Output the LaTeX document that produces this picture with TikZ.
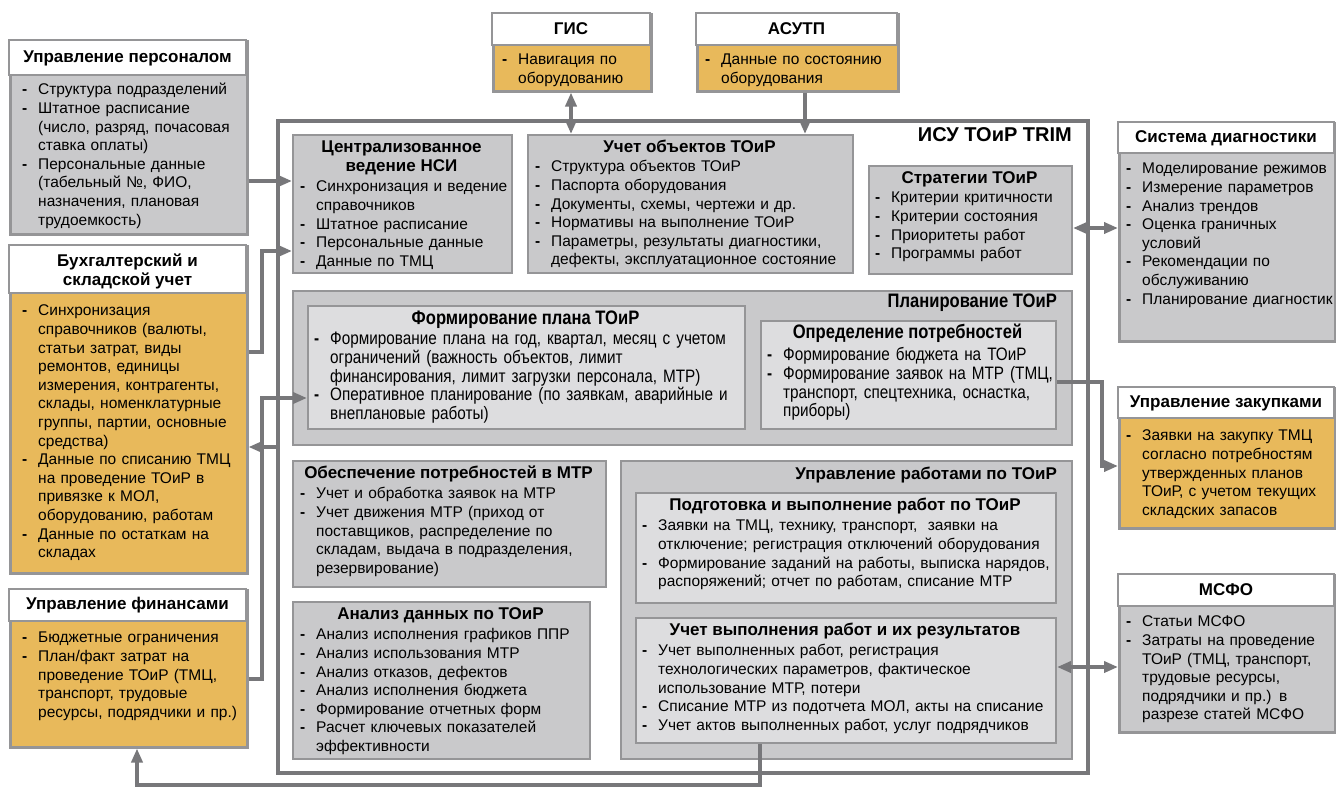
\documentclass[tikz,border=0pt]{standalone}
\usepackage{fontspec}
\setmainfont{Liberation Sans}
\newfontfamily\narrowfont[FakeStretch=0.85]{Liberation Sans}
\usetikzlibrary{arrows.meta}
\definecolor{gfill}{HTML}{C9C9CB}
\definecolor{lfill}{HTML}{DDDDDF}
\definecolor{ofill}{HTML}{E8B95B}
\definecolor{bord}{HTML}{959597}
\definecolor{conncol}{HTML}{77777A}
\newlength\dashw
\setlength\dashw{16pt}
\newcommand\mystrut{\rule{0pt}{12pt}}
\newcommand\itm[1]{\par\hangindent=\dashw\hangafter=1\noindent\hbox to\dashw{\mystrut\textbf{-}\hss}#1\par}
\newcommand\bodyfont{\fontsize{15.5}{18.6}\selectfont}
\newcommand\hdfont{\bfseries\fontsize{17}{19}\selectfont}
\newcommand\nbodyfont{\narrowfont\fontsize{18}{18.6}\selectfont}
\newcommand\nhdfont{\narrowfont\bfseries\fontsize{19.5}{20}\selectfont}
\newcommand\bx[6]{\node[#6, anchor=north west, minimum width=#4pt-#2pt, minimum height=#5pt-#3pt] (#1) at (#2,#3) {};}
\tikzset{
  gbox/.style={rectangle, draw=bord, line width=2pt, fill=gfill, inner sep=0pt},
  obox/.style={gbox, fill=ofill},
  lbox/.style={gbox, fill=lfill},
  ebox/.style={gbox, line width=2.5pt},
  eobox/.style={obox, line width=2.5pt},
  isubox/.style={rectangle, draw=conncol, line width=4pt, fill=white, inner sep=0pt},
  hdr/.style={draw=bord, line width=2.5pt, fill=white},
  body/.style={anchor=north west, inner sep=0pt, align=left, font=\bodyfont},
  nbody/.style={anchor=north west, inner sep=0pt, align=left, font=\nbodyfont},
  head/.style={inner sep=0pt, align=center, font=\hdfont, text height=12pt, text depth=4pt},
  mhead/.style={inner sep=0pt, align=center, font=\hdfont},
  conn/.style={draw=conncol, line width=3.5pt, -{Triangle[length=14pt,width=11pt]}},
  conn2/.style={conn, {Triangle[length=14pt,width=11pt]}-{Triangle[length=14pt,width=11pt]}}
}
\begin{document}
\begin{tikzpicture}[x=1pt,y=-1pt]
\useasboundingbox (0,0) rectangle (1336,788);
\fill[white] (0,0) rectangle (1336,788);

% ---------- container
\bx{isu}{276}{118.5}{1086}{771}{isubox}
\node[anchor=east, inner sep=0pt, font=\bfseries\fontsize{20}{22}\selectfont, text height=13pt, text depth=4pt] (isut) at (1072,137) {ИСУ ТОиР TRIM};

% ---------- external boxes
\bx{hr}{9}{40}{246}{233}{ebox}
\draw[hdr] (9,40) rectangle (246,75);
\node[head] (hrh) at (127.5,58) {Управление персоналом};
\node[body, text width=225pt] (hrb) at (22,76) {%
\itm{Структура подразделений}
\itm{Штатное расписание\newline (число, разряд, почасовая\newline ставка оплаты)}
\itm{Персональные данные\newline (табельный №, ФИО,\newline назначения, плановая\newline трудоемкость)}};

\bx{acc}{9}{245}{246}{572}{eobox}
\draw[hdr] (9,245) rectangle (246,293);
\node[mhead] (acch) at (127.5,271) {Бухгалтерский и\\складской учет};
\node[body, text width=225pt] (accb) at (22,297) {%
\itm{Синхронизация\newline справочников (валюты,\newline статьи затрат, виды\newline ремонтов, единицы\newline измерения, контрагенты,\newline склады, номенклатурные\newline группы, партии, основные\newline средства)}
\itm{Данные по списанию ТМЦ\newline на проведение ТОиР в\newline привязке к МОЛ,\newline оборудованию, работам}
\itm{Данные по остаткам на\newline складах}};

\bx{fin}{9}{589}{246}{746}{eobox}
\draw[hdr] (9,589) rectangle (246,621);
\node[head] (finh) at (127.5,605) {Управление финансами};
\node[body, text width=225pt] (finb) at (22,624) {%
\itm{Бюджетные ограничения}
\itm{План/факт затрат на\newline проведение ТОиР (ТМЦ,\newline транспорт, трудовые\newline ресурсы, подрядчики и пр.)}};

\bx{gis}{492}{13}{650}{90}{eobox}
\draw[hdr] (492,13) rectangle (650,45);
\node[head] (gish) at (571,30) {ГИС};
\node[body, text width=150pt] (gisb) at (502,46) {%
\itm{Навигация по\newline оборудованию}};

\bx{asu}{696}{13}{897}{90}{eobox}
\draw[hdr] (696,13) rectangle (897,45);
\node[head] (asuh) at (796.5,30) {АСУТП};
\node[body, text width=190pt] (asub) at (705,46) {%
\itm{Данные по состоянию\newline оборудования}};

\bx{diag}{1118}{122}{1334}{340}{ebox}
\draw[hdr] (1118,122) rectangle (1334,153);
\node[head] (diagh) at (1226,138) {Система диагностики};
\node[body, text width=215pt] (diagb) at (1126,155) {%
\itm{Моделирование режимов}
\itm{Измерение параметров}
\itm{Анализ трендов}
\itm{Оценка граничных\newline условий}
\itm{Рекомендации по\newline обслуживанию}
\itm{Планирование диагностик}};

\bx{buy}{1118}{387}{1334}{527}{eobox}
\draw[hdr] (1118,387) rectangle (1334,418);
\node[head] (buyh) at (1226,403) {Управление закупками};
\node[body, text width=215pt] (buyb) at (1126,422) {%
\itm{Заявки на закупку ТМЦ\newline согласно потребностям\newline утвержденных планов\newline ТОиР, с учетом текущих\newline складских запасов}};

\bx{msfo}{1118}{574}{1334}{731}{ebox}
\draw[hdr] (1118,574) rectangle (1334,606);
\node[head] (msfoh) at (1226,591) {МСФО};
\node[body, text width=215pt] (msfob) at (1126,608) {%
\itm{Статьи МСФО}
\itm{Затраты на проведение\newline ТОиР (ТМЦ, транспорт,\newline трудовые ресурсы,\newline подрядчики и пр.) в\newline разрезе статей МСФО}};

% ---------- inner boxes
\bx{nsi}{292}{134}{511}{272}{gbox}
\node[mhead] (nsih) at (401.5,158) {Централизованное\\ведение НСИ};
\node[body, text width=230pt] (nsib) at (300,173) {%
\itm{Синхронизация и ведение\newline справочников}
\itm{Штатное расписание}
\itm{Персональные данные}
\itm{Данные по ТМЦ}};

\bx{obj}{527}{134}{852}{272}{gbox}
\node[head] (objh) at (689.5,148) {Учет объектов ТОиР};
\node[body, text width=330pt] (objb) at (535,153) {%
\itm{Структура объектов ТОиР}
\itm{Паспорта оборудования}
\itm{Документы, схемы, чертежи и др.}
\itm{Нормативы на выполнение ТОиР}
\itm{Параметры, результаты диагностики,\newline дефекты, эксплуатационное состояние}};

\bx{strat}{868}{165}{1071}{273}{gbox}
\node[head] (strath) at (969.5,179) {Стратегии ТОиР};
\node[body, text width=200pt] (stratb) at (875,184) {%
\itm{Критерии критичности}
\itm{Критерии состояния}
\itm{Приоритеты работ}
\itm{Программы работ}};

\bx{plan}{292}{290}{1071}{444}{gbox}
\node[anchor=east, inner sep=0pt, font=\nhdfont, text height=13pt, text depth=4pt] (plant) at (1057,303) {Планирование ТОиР};

\bx{fplan}{307}{305}{744}{428}{lbox}
\node[inner sep=0pt, font=\nhdfont, text height=13pt, text depth=4pt] (fplanh) at (525.5,320) {Формирование плана ТОиР};
\node[nbody, text width=440pt] (fplanb) at (314,326) {%
\itm{Формирование плана на год, квартал, месяц с учетом\newline ограничений (важность объектов, лимит\newline финансирования, лимит загрузки персонала, МТР)}
\itm{Оперативное планирование (по заявкам, аварийные и\newline внеплановые работы)}};

\bx{need}{760}{320}{1055}{428}{lbox}
\node[inner sep=0pt, font=\nhdfont, text height=13pt, text depth=4pt] (needh) at (907.5,334) {Определение потребностей};
\node[nbody, text width=300pt] (needb) at (767,342) {%
\itm{Формирование бюджета на ТОиР}
\itm{Формирование заявок на МТР (ТМЦ,\newline транспорт, спецтехника, оснастка,\newline приборы)}};

\bx{mtr}{292}{460}{605}{586}{gbox}
\node[head] (mtrh) at (448.5,474) {Обеспечение потребностей в МТР};
\node[body, text width=310pt] (mtrb) at (300,480) {%
\itm{Учет и обработка заявок на МТР}
\itm{Учет движения МТР (приход от\newline поставщиков, распределение по\newline складам, выдача в подразделения,\newline резервирование)}};

\bx{anal}{292}{601}{589}{758}{gbox}
\node[head] (analh) at (440.5,615) {Анализ данных по ТОиР};
\node[body, text width=300pt] (analb) at (300,621) {%
\itm{Анализ исполнения графиков ППР}
\itm{Анализ использования МТР}
\itm{Анализ отказов, дефектов}
\itm{Анализ исполнения бюджета}
\itm{Формирование отчетных форм}
\itm{Расчет ключевых показателей\newline эффективности}};

\bx{work}{620}{460}{1071}{758}{gbox}
\node[anchor=east, inner sep=0pt, font=\hdfont, text height=12pt, text depth=4pt] (workt) at (1057,475) {Управление работами по ТОиР};

\bx{prep}{635}{492}{1055}{602}{lbox}
\node[head] (preph) at (845,506) {Подготовка и выполнение работ по ТОиР};
\node[body, text width=420pt] (prepb) at (642,512) {%
\itm{Заявки на ТМЦ, технику, транспорт,\ \ заявки на\newline отключение; регистрация отключений оборудования}
\itm{Формирование заданий на работы, выписка нарядов,\newline распоряжений; отчет по работам, списание МТР}};

\bx{exec}{635}{617}{1055}{742}{lbox}
\node[head] (exech) at (845,631) {Учет выполнения работ и их результатов};
\node[body, text width=420pt] (execb) at (642,637) {%
\itm{Учет выполненных работ, регистрация\newline технологических параметров, фактическое\newline использование МТР, потери}
\itm{Списание МТР из подотчета МОЛ, акты на списание}
\itm{Учет актов выполненных работ, услуг подрядчиков}};

% ---------- connectors
\coordinate (c1) at (0,181);
\draw[conn] (hr.east |- c1) -- (nsi.west |- c1);
\coordinate (c2a) at (262,352);
\coordinate (c2b) at (262,251);
\draw[conn] (acc.east |- c2a) -- (c2a) -- (c2b) -- (nsi.west |- c2b);
\coordinate (c3a) at (262,679);
\coordinate (c3b) at (262,398);
\draw[conn] (fin.east |- c3a) -- (c3a) -- (c3b) -- (fplan.west |- c3b);
\coordinate (c4) at (0,447);
\draw[conn] (isu.west |- c4) -- (acc.east |- c4);
\coordinate (c5a) at (760,785);
\coordinate (c5b) at (137,785);
\draw[conn] (exec.south -| c5a) -- (c5a) -- (c5b) -- (fin.south -| c5b);
\coordinate (c6) at (571,0);
\draw[conn2] (gis.south -| c6) -- (obj.north -| c6);
\coordinate (c7) at (805,0);
\draw[conn] (asu.south -| c7) -- (obj.north -| c7);
\coordinate (c8) at (0,228);
\draw[conn2] (strat.east |- c8) -- (diag.west |- c8);
\coordinate (c9a) at (1102,382);
\coordinate (c9b) at (1102,466);
\draw[conn] (need.east |- c9a) -- (c9a) -- (c9b) -- (buy.west |- c9b);
\coordinate (c10) at (0,667);
\draw[conn2] (exec.east |- c10) -- (msfo.west |- c10);
\end{tikzpicture}
\end{document}
